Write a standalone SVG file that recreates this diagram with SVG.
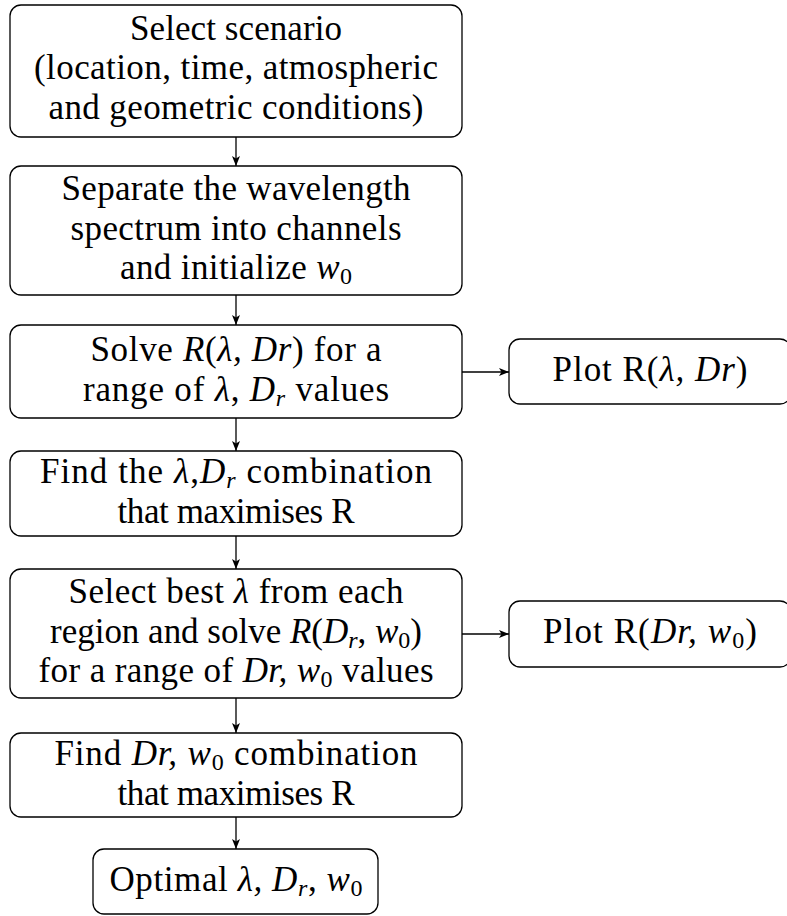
<svg xmlns="http://www.w3.org/2000/svg" width="787" height="916" viewBox="0 0 787 916">
  <style>
    .box { fill: #ffffff; stroke: #000000; stroke-width: 1.3; }
    .lbl { font-family: "Liberation Serif", "Times New Roman", serif; font-size: 35px; fill: #000000; text-anchor: middle; }
    .m { font-style: italic; }
    .sub { font-size: 24px; font-style: normal; }
    .msub { font-size: 24px; font-style: italic; }
    .edge { stroke: #000000; stroke-width: 1.3; fill: none; marker-end: url(#arrow); }
  </style>
  <defs>
    <marker id="arrow" viewBox="0 0 10 8" refX="10" refY="4" markerWidth="10" markerHeight="8" markerUnits="userSpaceOnUse" orient="auto">
      <path d="M0,0 L10,4 L0,8 L2.5,4 Z" fill="#000000"/>
    </marker>
  </defs>
  <rect width="787" height="916" fill="#ffffff"/>

  <g id="connectors">
    <line class="edge" x1="236" y1="137" x2="236" y2="166"/>
    <line class="edge" x1="236" y1="295" x2="236" y2="325"/>
    <line class="edge" x1="236" y1="418" x2="236" y2="451"/>
    <line class="edge" x1="236" y1="536" x2="236" y2="569"/>
    <line class="edge" x1="236" y1="698" x2="236" y2="733"/>
    <line class="edge" x1="236" y1="817" x2="236" y2="849"/>
    <line class="edge" x1="461" y1="372" x2="509" y2="372"/>
    <line class="edge" x1="461" y1="634" x2="509" y2="634"/>
  </g>

  <g id="select-scenario">
    <rect class="box" x="10" y="5" width="452" height="132" rx="11"/>
    <text class="lbl" x="236" y="39.5" textLength="212" lengthAdjust="spacing">Select scenario</text>
    <text class="lbl" x="236" y="79" textLength="404" lengthAdjust="spacing">(location, time, atmospheric</text>
    <text class="lbl" x="236" y="118.5" textLength="375" lengthAdjust="spacing">and geometric conditions)</text>
  </g>

  <g id="separate-spectrum">
    <rect class="box" x="10" y="166" width="452" height="129" rx="11"/>
    <text class="lbl" x="236" y="200" textLength="349" lengthAdjust="spacing">Separate the wavelength</text>
    <text class="lbl" x="236" y="240" textLength="331" lengthAdjust="spacing">spectrum into channels</text>
    <text class="lbl" x="236" y="279" textLength="232" lengthAdjust="spacing">and initialize <tspan class="m">w</tspan><tspan class="sub" dy="5">0</tspan></text>
  </g>

  <g id="solve-lambda-dr">
    <rect class="box" x="10" y="325" width="452" height="93" rx="11"/>
    <text class="lbl" x="236" y="361" textLength="291" lengthAdjust="spacing">Solve <tspan class="m">R</tspan>(<tspan class="m">λ, Dr</tspan>) for a</text>
    <text class="lbl" x="236" y="400.5" textLength="306" lengthAdjust="spacing">range of <tspan class="m">λ</tspan>, <tspan class="m">D</tspan><tspan class="msub" dy="5">r</tspan><tspan dy="-5"> values</tspan></text>
  </g>

  <g id="plot-lambda-dr">
    <rect class="box" x="509" y="339" width="282" height="65" rx="11"/>
    <text class="lbl" x="650" y="381" textLength="195" lengthAdjust="spacing">Plot R(<tspan class="m">λ, Dr</tspan>)</text>
  </g>

  <g id="find-lambda-dr">
    <rect class="box" x="10" y="451" width="452" height="85" rx="11"/>
    <text class="lbl" x="236" y="483" textLength="392" lengthAdjust="spacing">Find the <tspan class="m">λ</tspan>,<tspan class="m">D</tspan><tspan class="msub" dy="5">r</tspan><tspan dy="-5"> combination</tspan></text>
    <text class="lbl" x="236" y="522.5" textLength="237" lengthAdjust="spacing">that maximises R</text>
  </g>

  <g id="select-best-lambda">
    <rect class="box" x="10" y="569" width="452" height="129" rx="11"/>
    <text class="lbl" x="236" y="603" textLength="335" lengthAdjust="spacing">Select best <tspan class="m">λ</tspan> from each</text>
    <text class="lbl" x="236" y="642.5" textLength="372" lengthAdjust="spacing">region and solve <tspan class="m">R</tspan>(<tspan class="m">D</tspan><tspan class="msub" dy="5">r</tspan><tspan dy="-5">, </tspan><tspan class="m">w</tspan><tspan class="sub" dy="5">0</tspan><tspan dy="-5">)</tspan></text>
    <text class="lbl" x="236" y="682" textLength="395" lengthAdjust="spacing">for a range of <tspan class="m">Dr, w</tspan><tspan class="sub" dy="5">0</tspan><tspan dy="-5"> values</tspan></text>
  </g>

  <g id="plot-dr-w0">
    <rect class="box" x="509" y="601" width="282" height="66" rx="11"/>
    <text class="lbl" x="650" y="643" textLength="214" lengthAdjust="spacing">Plot R(<tspan class="m">Dr, w</tspan><tspan class="sub" dy="5">0</tspan><tspan dy="-5">)</tspan></text>
  </g>

  <g id="find-dr-w0">
    <rect class="box" x="10" y="733" width="452" height="84" rx="11"/>
    <text class="lbl" x="236" y="765" textLength="363" lengthAdjust="spacing">Find <tspan class="m">Dr, w</tspan><tspan class="sub" dy="5">0</tspan><tspan dy="-5"> combination</tspan></text>
    <text class="lbl" x="236" y="804.5" textLength="237" lengthAdjust="spacing">that maximises R</text>
  </g>

  <g id="optimal-result">
    <rect class="box" x="93" y="849" width="285" height="65" rx="11"/>
    <text class="lbl" x="236" y="891" textLength="253" lengthAdjust="spacing">Optimal <tspan class="m">λ, D</tspan><tspan class="msub" dy="5">r</tspan><tspan dy="-5">, </tspan><tspan class="m">w</tspan><tspan class="sub" dy="5">0</tspan></text>
  </g>
</svg>
